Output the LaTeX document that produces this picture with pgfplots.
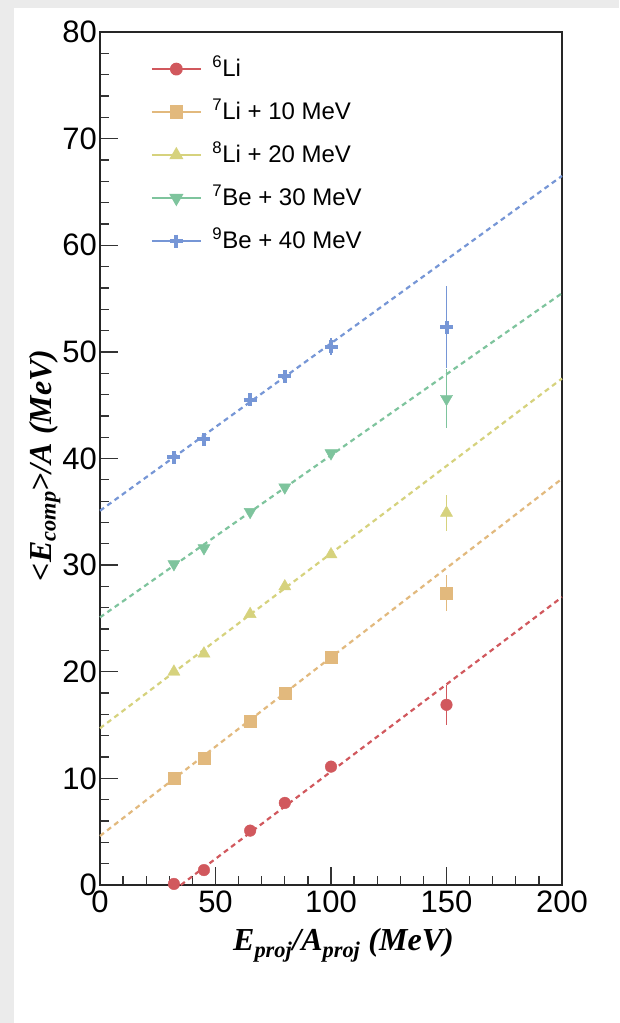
\documentclass[border=0pt]{standalone}
\usepackage{pgfplots}
\pgfplotsset{compat=1.18}
\usepackage{fontspec}
\setmainfont{Liberation Sans}
\newfontfamily\timesfont{Liberation Serif}

\definecolor{cLisix}{RGB}{209,88,93}
\definecolor{cLiseven}{RGB}{226,185,125}
\definecolor{cLieight}{RGB}{214,210,125}
\definecolor{cBeseven}{RGB}{126,196,157}
\definecolor{cBenine}{RGB}{118,150,214}

\begin{document}
\begin{tikzpicture}
  % screenshot margin
  \fill[black!8] (0pt,0pt) rectangle (619pt,1023pt);
  \fill[white] (14pt,0pt) rectangle (619pt,1015pt);
  \path[use as bounding box] (0pt,0pt) rectangle (619pt,1023pt);
  \begin{axis}[
      at={(100pt,138pt)}, anchor=south west,
      scale only axis, width=462pt, height=853pt,
      xmin=0, xmax=200, ymin=0, ymax=80,
      xtick={0,50,...,200}, ytick={0,10,...,80},
      minor x tick num=4, minor y tick num=4,
      tick pos=left, tick align=inside,
      major tick length=18pt, minor tick length=9pt,
      axis line style={black!85, line width=1.3pt},
      tick style={black!80, line width=1.3pt},
      clip=false,
      /pgf/number format/assume math mode=true,
      ticklabel style={font=\fontsize{31}{31}\selectfont},
      xticklabel style={inner ysep=6pt},
      yticklabel style={inner xsep=3pt},
      xlabel={E\textsubscript{proj}/A\textsubscript{proj} (MeV)},
      ylabel={<E\textsubscript{comp}>/A (MeV)},
      xlabel style={at={(axis description cs:0.527,-0.0703)}, anchor=center,
        font=\timesfont\bfseries\itshape\fontsize{32}{32}\selectfont},
      ylabel style={at={(axis description cs:-0.119,0.492)}, anchor=center,
        font=\timesfont\bfseries\itshape\fontsize{32}{32}\selectfont},
      legend style={at={(axis description cs:0.104,0.972)}, anchor=north west,
        draw=none, fill=none, font=\fontsize{24}{24}\selectfont,
        row sep=21pt, column sep=11pt,
        nodes={inner sep=0pt, text height=18pt, text depth=4pt}},
      legend cell align=left,
      legend image code/.code={
        \draw[mark repeat=2, mark phase=2, #1]
          plot coordinates {(0pt,0pt) (24.5pt,0pt) (49pt,0pt)};},
    ]
    % legend entries (line + marker, as in the original)
    \addlegendimage{cLisix, line width=1.2pt, mark=*, mark size=5.8pt}
    \addlegendentry{\textsuperscript{6}Li}
    \addlegendimage{cLiseven, line width=1.2pt, mark=square*, mark size=6pt}
    \addlegendentry{\textsuperscript{7}Li + 10 MeV}
    \addlegendimage{cLieight, line width=1.2pt, mark=triangle*, mark size=7pt}
    \addlegendentry{\textsuperscript{8}Li + 20 MeV}
    \addlegendimage{cBeseven, line width=1.2pt, mark=triangle*, mark size=7pt, mark options={rotate=180}}
    \addlegendentry{\textsuperscript{7}Be + 30 MeV}
    \addlegendimage{cBenine, line width=1.2pt, mark=+, mark size=6.5pt, mark options={line width=4pt}}
    \addlegendentry{\textsuperscript{9}Be + 40 MeV}

    % linear fits
    \addplot[cLisix, line width=2.2pt, dash pattern=on 5pt off 4pt, forget plot]
      coordinates {(35,0) (200,27.0)};
    \addplot[cLiseven, line width=2.2pt, dash pattern=on 5pt off 4pt, forget plot]
      coordinates {(0,4.6) (200,38.1)};
    \addplot[cLieight, line width=2.2pt, dash pattern=on 5pt off 4pt, forget plot]
      coordinates {(0,14.7) (200,47.5)};
    \addplot[cBeseven, line width=2.2pt, dash pattern=on 5pt off 4pt, forget plot]
      coordinates {(0,25.1) (200,55.5)};
    \addplot[cBenine, line width=2.2pt, dash pattern=on 5pt off 4pt, forget plot]
      coordinates {(0,35.1) (200,66.5)};

    % data points
    \addplot[only marks, forget plot, cLisix, mark=*, mark size=5.8pt,
      error bars/.cd, y dir=both, y explicit, error mark=none,
      error bar style={line width=1.8pt, solid}]
      table[y error=e] {
        x   y    e
        32  0.1  0.3
        45  1.4  0.3
        65  5.1  0.3
        80  7.7  0.3
        100 11.1 0.3
        150 16.9 1.9
      };
    \addplot[only marks, forget plot, cLiseven, mark=square*, mark size=6pt,
      error bars/.cd, y dir=both, y explicit, error mark=none,
      error bar style={line width=1.8pt, solid}]
      table[y error=e] {
        x   y    e
        32  10.0 0.3
        45  11.9 0.3
        65  15.4 0.3
        80  18.0 0.3
        100 21.4 0.3
        150 27.4 1.7
      };
    \addplot[only marks, forget plot, cLieight, mark=triangle*, mark size=7pt,
      error bars/.cd, y dir=both, y explicit, error mark=none,
      error bar style={line width=1.8pt, solid}]
      table[y error=e] {
        x   y    e
        32  20.0 0.3
        45  21.7 0.3
        65  25.4 0.3
        80  28.0 0.3
        100 31.0 0.3
        150 34.9 1.7
      };
    \addplot[only marks, forget plot, cBeseven, mark=triangle*, mark size=7pt,
      mark options={rotate=180},
      error bars/.cd, y dir=both, y explicit, error mark=none,
      error bar style={line width=1.8pt, solid}]
      table[y error=e] {
        x   y    e
        32  30.1 0.3
        45  31.6 0.3
        65  35.0 0.3
        80  37.3 0.3
        100 40.5 0.3
        150 45.6 2.75
      };
    \addplot[only marks, forget plot, cBenine, mark=+, mark size=6.5pt,
      mark options={line width=4pt},
      error bars/.cd, y dir=both, y explicit, error mark=none,
      error bar style={line width=1.8pt, solid}]
      table[y error=e] {
        x   y    e
        32  40.1 0.3
        45  41.8 0.3
        65  45.5 0.3
        80  47.7 0.3
        100 50.5 0.8
        150 52.3 3.85
      };
  \end{axis}
\end{tikzpicture}
\end{document}
